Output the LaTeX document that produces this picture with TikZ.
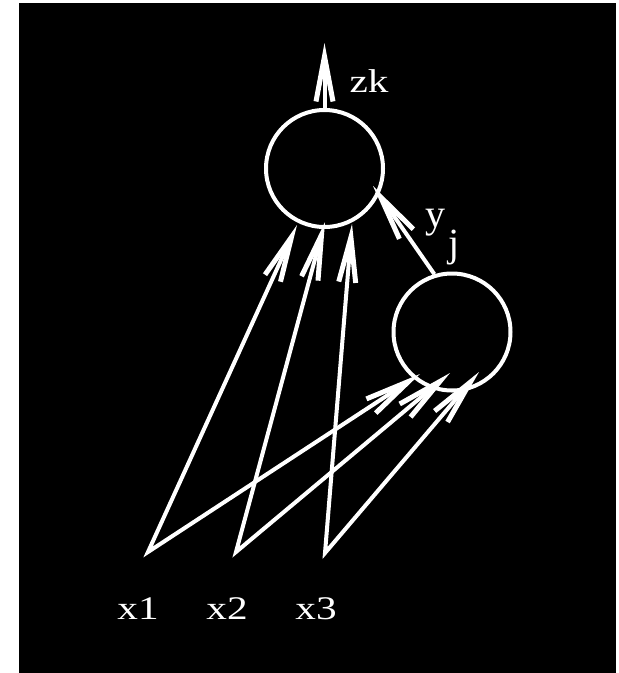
\documentclass[tikz,border=0pt]{standalone}
\usepackage{fontspec}
\usepackage{graphicx}
\setmainfont{Liberation Serif}
\usetikzlibrary{arrows.meta}
\begin{document}
\begin{tikzpicture}[x=1pt,y=-1pt,
  wire/.style={draw=white,line width=4pt,line join=miter},
  barb/.style={-{Straight Barb[length=45pt,width=17pt,line width=5pt]}},
  dbarb/.style={{Straight Barb[length=45pt,width=17pt,line width=5pt]}-{Straight Barb[length=45pt,width=17pt,line width=5pt]}},
  neuron/.style={circle,draw=white,line width=4pt,minimum size=117pt,inner sep=0pt},
  lbl/.style={text=white,inner sep=0pt,anchor=base,font=\fontsize{33}{38}\selectfont},
  sublbl/.style={text=white,inner sep=0pt,anchor=base west,font=\fontsize{40}{46}\selectfont},
]
\useasboundingbox (0,0) rectangle (619,673);
\fill[white] (0,0) rectangle (619,673);
\fill[black] (19,3) rectangle (616,673);

% neurons
\node[neuron] (top) at (324.5,168.5) {};
\node[neuron] (small) at (452,332) {};

% labels
\node[lbl] (lzk) at (369,92) {\scalebox{1.25}[1]{zk}};
\node[sublbl] (ly) at (425,227) {y};
\node[sublbl] (lj) at (448,256) {j};
\node[lbl] (lx1) at (138,619) {\scalebox{1.25}[1]{x1}};
\node[lbl] (lx2) at (227,619) {\scalebox{1.25}[1]{x2}};
\node[lbl] (lx3) at (316,619) {\scalebox{1.25}[1]{x3}};

% coordinates
\coordinate (zktip) at (324.5,43);
\coordinate (x1s) at (148,552);
\coordinate (x2s) at (236,552);
\coordinate (x3s) at (325,553);
\coordinate (t1) at (297,225);
\coordinate (t2) at (325,222);
\coordinate (t3) at (352,224);
\coordinate (s1) at (420,374);
\coordinate (s2) at (450,373);
\coordinate (s3) at (479,372);
\coordinate (ytip) at (373,186);

% connectors
\draw[wire,barb] (top.north) -- (zktip);
\draw[wire,barb] (small.107) -- (ytip);
\draw[wire,dbarb] (t1) -- (x1s) -- (s1);
\draw[wire,dbarb] (t2) -- (x2s) -- (s2);
\draw[wire,dbarb] (t3) -- (x3s) -- (s3);
\end{tikzpicture}
\end{document}
